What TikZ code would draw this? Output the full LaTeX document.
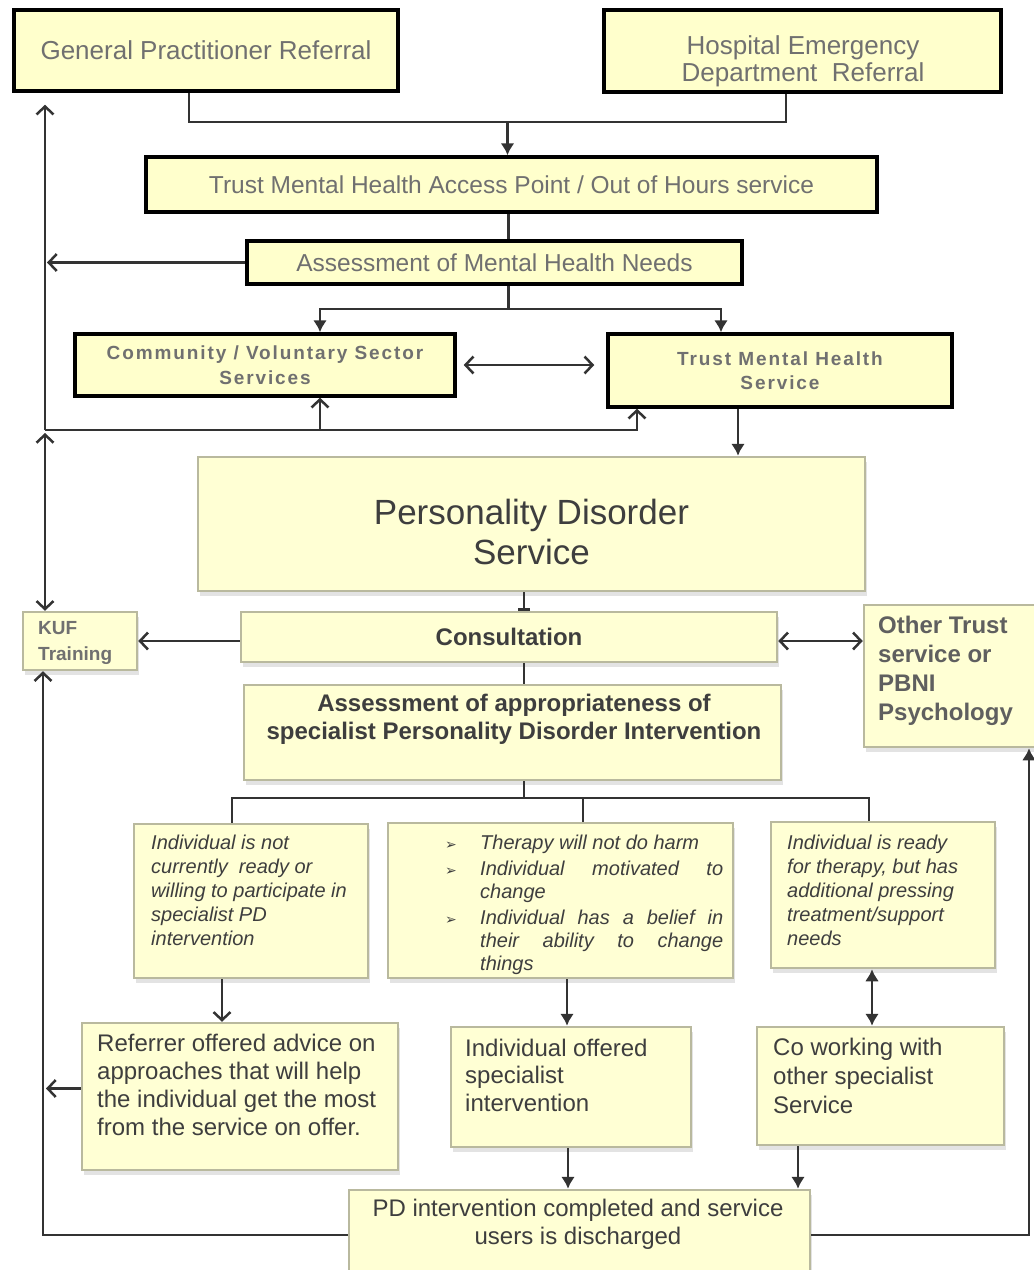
\documentclass[tikz,border=0pt]{standalone}
\usepackage{fontspec}
\setmainfont{Liberation Sans}
\newfontfamily\spacedfont[LetterSpace=10]{Liberation Sans}
\newfontfamily\dingfont{DejaVu Sans}
\usetikzlibrary{arrows, arrows.meta, shadows, calc}
\definecolor{boxfill}{HTML}{FFFFCC}
\definecolor{softfill}{HTML}{FFFFD4}
\definecolor{boxedge}{HTML}{B9B99E}
\definecolor{txtgray}{HTML}{707070}
\definecolor{txtdark}{HTML}{3E3E3E}
\definecolor{linegray}{HTML}{333333}

\begin{document}
\begin{tikzpicture}[x=1pt, y=-1pt,
  >={Straight Barb[length=8pt, width=17pt]},
  topbox/.style={draw=black, line width=3.5pt, fill=boxfill, rectangle, inner sep=0pt},
  softbox/.style={draw=boxedge, line width=2.5pt, fill=softfill, rectangle, inner sep=0pt,
    drop shadow={shadow xshift=2pt, shadow yshift=-5pt, fill=black!22}},
  toptxt/.style={text=txtgray, font=\fontsize{24.5}{28}\selectfont},
  smallbold/.style={text=txtgray, align=center, font=\spacedfont\bfseries\fontsize{19}{24.5}\selectfont},
  bodytxt/.style={text=txtdark, inner sep=0pt, align=left, font=\fontsize{24}{28}\selectfont},
  ittxt/.style={text=txtdark, inner sep=0pt, align=left, font=\itshape\fontsize{20}{24}\selectfont},
  link/.style={draw=linegray, line width=2.5pt},
  fill tip/.style={-{Latex[length=12pt, width=14pt]}}]
\useasboundingbox (0,0) rectangle (1034,1270);

% Referral sources
\node[topbox, toptxt, minimum width=384pt, minimum height=81pt, font=\fontsize{26}{30}\selectfont] (gp) at (206,50.5) {General Practitioner Referral};
\node[topbox, minimum width=397pt, minimum height=82pt] (hosp) at (802.5,51) {};
\node[toptxt, align=center, font=\fontsize{26}{27}\selectfont] (hospt) at (803,61) {Hospital Emergency\\Department~ Referral};

% Access point and assessment
\node[topbox, toptxt, minimum width=731pt, minimum height=55pt] (access) at (511.5,184.5) {Trust Mental Health Access Point / Out of Hours service};
\node[topbox, toptxt, minimum width=495pt, minimum height=43pt] (needs) at (494.5,262.5) {Assessment of Mental Health Needs};

% Services
\node[topbox, smallbold, minimum width=380pt, minimum height=62pt] (comm) at (265,365) {Community / Voluntary Sector\\Services};
\node[topbox, smallbold, minimum width=344pt, minimum height=73pt] (tmhs) at (780,370.5) {Trust Mental Health\\Service};

% PD service
\node[softbox, minimum width=667pt, minimum height=134pt] (pds) at (531.5,524) {};
\node[text=txtdark, align=center, font=\fontsize{35}{40}\selectfont] (pdst) at (531.5,532) {Personality Disorder\\Service};

\node[softbox, minimum width=114pt, minimum height=58pt] (kuf) at (80,641) {};
\node[anchor=north west, inner sep=0pt, align=left, text=txtgray, font=\bfseries\fontsize{19}{26}\selectfont] (kuft) at (38,621) {KUF\\Training};

\node[softbox, minimum width=536pt, minimum height=50pt, text=txtdark, font=\bfseries\fontsize{24}{28}\selectfont] (consult) at (509,637) {Consultation};

\node[softbox, minimum width=190pt, minimum height=142pt] (other) at (959,676) {};
\node[anchor=north west, inner sep=0pt, align=left, text=txtgray!85!black, font=\bfseries\fontsize{24}{29}\selectfont] (othert) at (878,616) {Other Trust\\service or\\PBNI\\Psychology};

\node[softbox, minimum width=537pt, minimum height=95pt] (approp) at (512.5,732.5) {};
\node[text=txtdark, align=center, font=\bfseries\fontsize{24}{28}\selectfont] (appropt) at (514,719) {Assessment of appropriateness of\\specialist Personality Disorder Intervention};

% Outcome of assessment
\node[softbox, minimum width=234pt, minimum height=154pt] (notready) at (251,901) {};
\node[ittxt, anchor=north west] (notreadyt) at (151,835) {Individual is not\\currently~ ready or\\willing to participate in\\specialist PD\\intervention};

\node[softbox, minimum width=345pt, minimum height=155pt] (ready) at (560.5,900.5) {};
\node[text=txtdark, inner sep=0pt, anchor=north west] (readyt) at (445,835) {\begin{minipage}{278pt}
\fontsize{20}{23}\selectfont\itshape
\hyphenpenalty=10000 \exhyphenpenalty=10000 \tolerance=9999 \parskip=3pt \parindent=0pt
\hangindent=35pt\hangafter=1\makebox[35pt][l]{\dingfont\upshape\fontsize{14}{14}\selectfont ➢}Therapy will not do harm\par
\hangindent=35pt\hangafter=1\makebox[35pt][l]{\dingfont\upshape\fontsize{14}{14}\selectfont ➢}Individual motivated to\linebreak change\par
\hangindent=35pt\hangafter=1\makebox[35pt][l]{\dingfont\upshape\fontsize{14}{14}\selectfont ➢}Individual has a belief in\linebreak their ability to change\linebreak things\par
\end{minipage}};

\node[softbox, minimum width=224pt, minimum height=146pt] (pressing) at (883,895) {};
\node[ittxt, anchor=north west] (pressingt) at (787,835) {Individual is ready\\for therapy, but has\\additional pressing\\treatment/support\\needs};

% Offers
\node[softbox, minimum width=316pt, minimum height=147pt] (referrer) at (240,1096.5) {};
\node[bodytxt, anchor=north west] (referrert) at (97,1034) {Referrer offered advice on\\approaches that will help\\the individual get the most\\from the service on offer.};

\node[softbox, minimum width=240pt, minimum height=120pt] (offered) at (571,1087) {};
\node[bodytxt, anchor=north west, font=\fontsize{24}{27.5}\selectfont] (offeredt) at (465,1038.5) {Individual offered\\specialist\\intervention};

\node[softbox, minimum width=247pt, minimum height=118pt] (cowork) at (880.5,1086) {};
\node[bodytxt, anchor=north west, font=\fontsize{24}{29}\selectfont] (coworkt) at (773,1038) {Co working with\\other specialist\\Service};

\node[softbox, minimum width=461pt, minimum height=100pt] (done) at (579.5,1240) {};
\node[text=txtdark, align=center, font=\fontsize{24}{28}\selectfont] (donet) at (578,1224) {PD intervention completed and service\\users is discharged};

% Junctions
\coordinate (jtop) at (507.5,122);
\coordinate (jmid) at (508.5,309);
\coordinate (jlow) at (45,430);
\coordinate (jsplit) at (524,798);
\coordinate (jbl) at (43,1235);
\coordinate (jbr) at (1029,1235);

% Top connectors
\draw[link] ([xshift=-17pt]gp.south) |- (jtop) -| ([xshift=-16.5pt]hosp.south);
\draw[link, fill tip] (jtop) -- (jtop |- access.north);
\draw[link] ([xshift=-3pt]access.south) -- ([xshift=-3pt]access.south |- needs.north);
\draw[link] ([xshift=14pt]needs.south) -- (jmid);
\draw[link, fill tip] (jmid) -| ([xshift=55pt]comm.north);
\draw[link, fill tip] (jmid) -| ([xshift=-59pt]tmhs.north);
\draw[link, <->, shorten <=7pt, shorten >=12pt] (comm.east) -- (comm.east -| tmhs.west);

% Left feedback line
\draw[link, ->, shorten >=2pt] (needs.west) -- (needs.west -| jlow);
\draw[link, ->, shorten >=12pt] (jlow) -- (jlow |- gp.south);
\draw[link, ->] (jlow) -| ([xshift=-143pt]tmhs.south);
\draw[link, ->] ([xshift=55pt]comm.south |- jlow) -- ([xshift=55pt]comm.south);
\draw[link, <->, shorten <=3pt] (jlow) -- (jlow |- kuf.north);

% Into and out of PD service
\draw[link, fill tip] ([xshift=-42pt]tmhs.south) -- ([xshift=-42pt]tmhs.south |- pds.north);
\draw[link, -{Bar[width=12pt]}] ([xshift=-7.5pt]pds.south) -- ([xshift=-7.5pt]pds.south |- consult.north);
\draw[link, ->] ([yshift=-4pt]consult.west) -- ([yshift=-4pt]consult.west -| kuf.east);
\draw[link, <->] ([yshift=-4pt]consult.east) -- ([yshift=-4pt]consult.east -| other.west);
\draw[link] ([xshift=15pt]consult.south) -- ([xshift=15pt]consult.south |- approp.north);

% Split to outcomes
\draw[link] ([xshift=11.5pt]approp.south) -- (jsplit);
\draw[link] ([xshift=-19pt]notready.north) |- (jsplit) -| ([xshift=-14pt]pressing.north);
\draw[link] (jsplit -| ready.north) ++(22.5,0) -- ([xshift=22.5pt]ready.north);
\draw[link, ->] ([xshift=-29pt]notready.south) -- ([xshift=-29pt]notready.south |- referrer.north);
\draw[link, fill tip] ([xshift=6.5pt]ready.south) -- ([xshift=6.5pt]ready.south |- offered.north);
\draw[link, {Latex[length=12pt, width=14pt]}-{Latex[length=12pt, width=14pt]}] ([xshift=-11pt]pressing.south) -- ([xshift=-11pt]pressing.south |- cowork.north);
\draw[link, fill tip] ([xshift=-3pt]offered.south) -- ([xshift=-3pt]offered.south |- done.north);
\draw[link, fill tip] ([xshift=-82.5pt]cowork.south) -- ([xshift=-82.5pt]cowork.south |- done.north);

% Return loops
\draw[link, ->, shorten >=3pt] ([yshift=8pt]referrer.west) -- ([yshift=8pt]referrer.west -| jbl);
\draw[link, ->] (done.west |- jbl) -- (jbl) -- (jbl |- kuf.south);
\draw[link, fill tip] (done.east |- jbr) -- (jbr) -- (jbr |- other.south);

\end{tikzpicture}
\end{document}
